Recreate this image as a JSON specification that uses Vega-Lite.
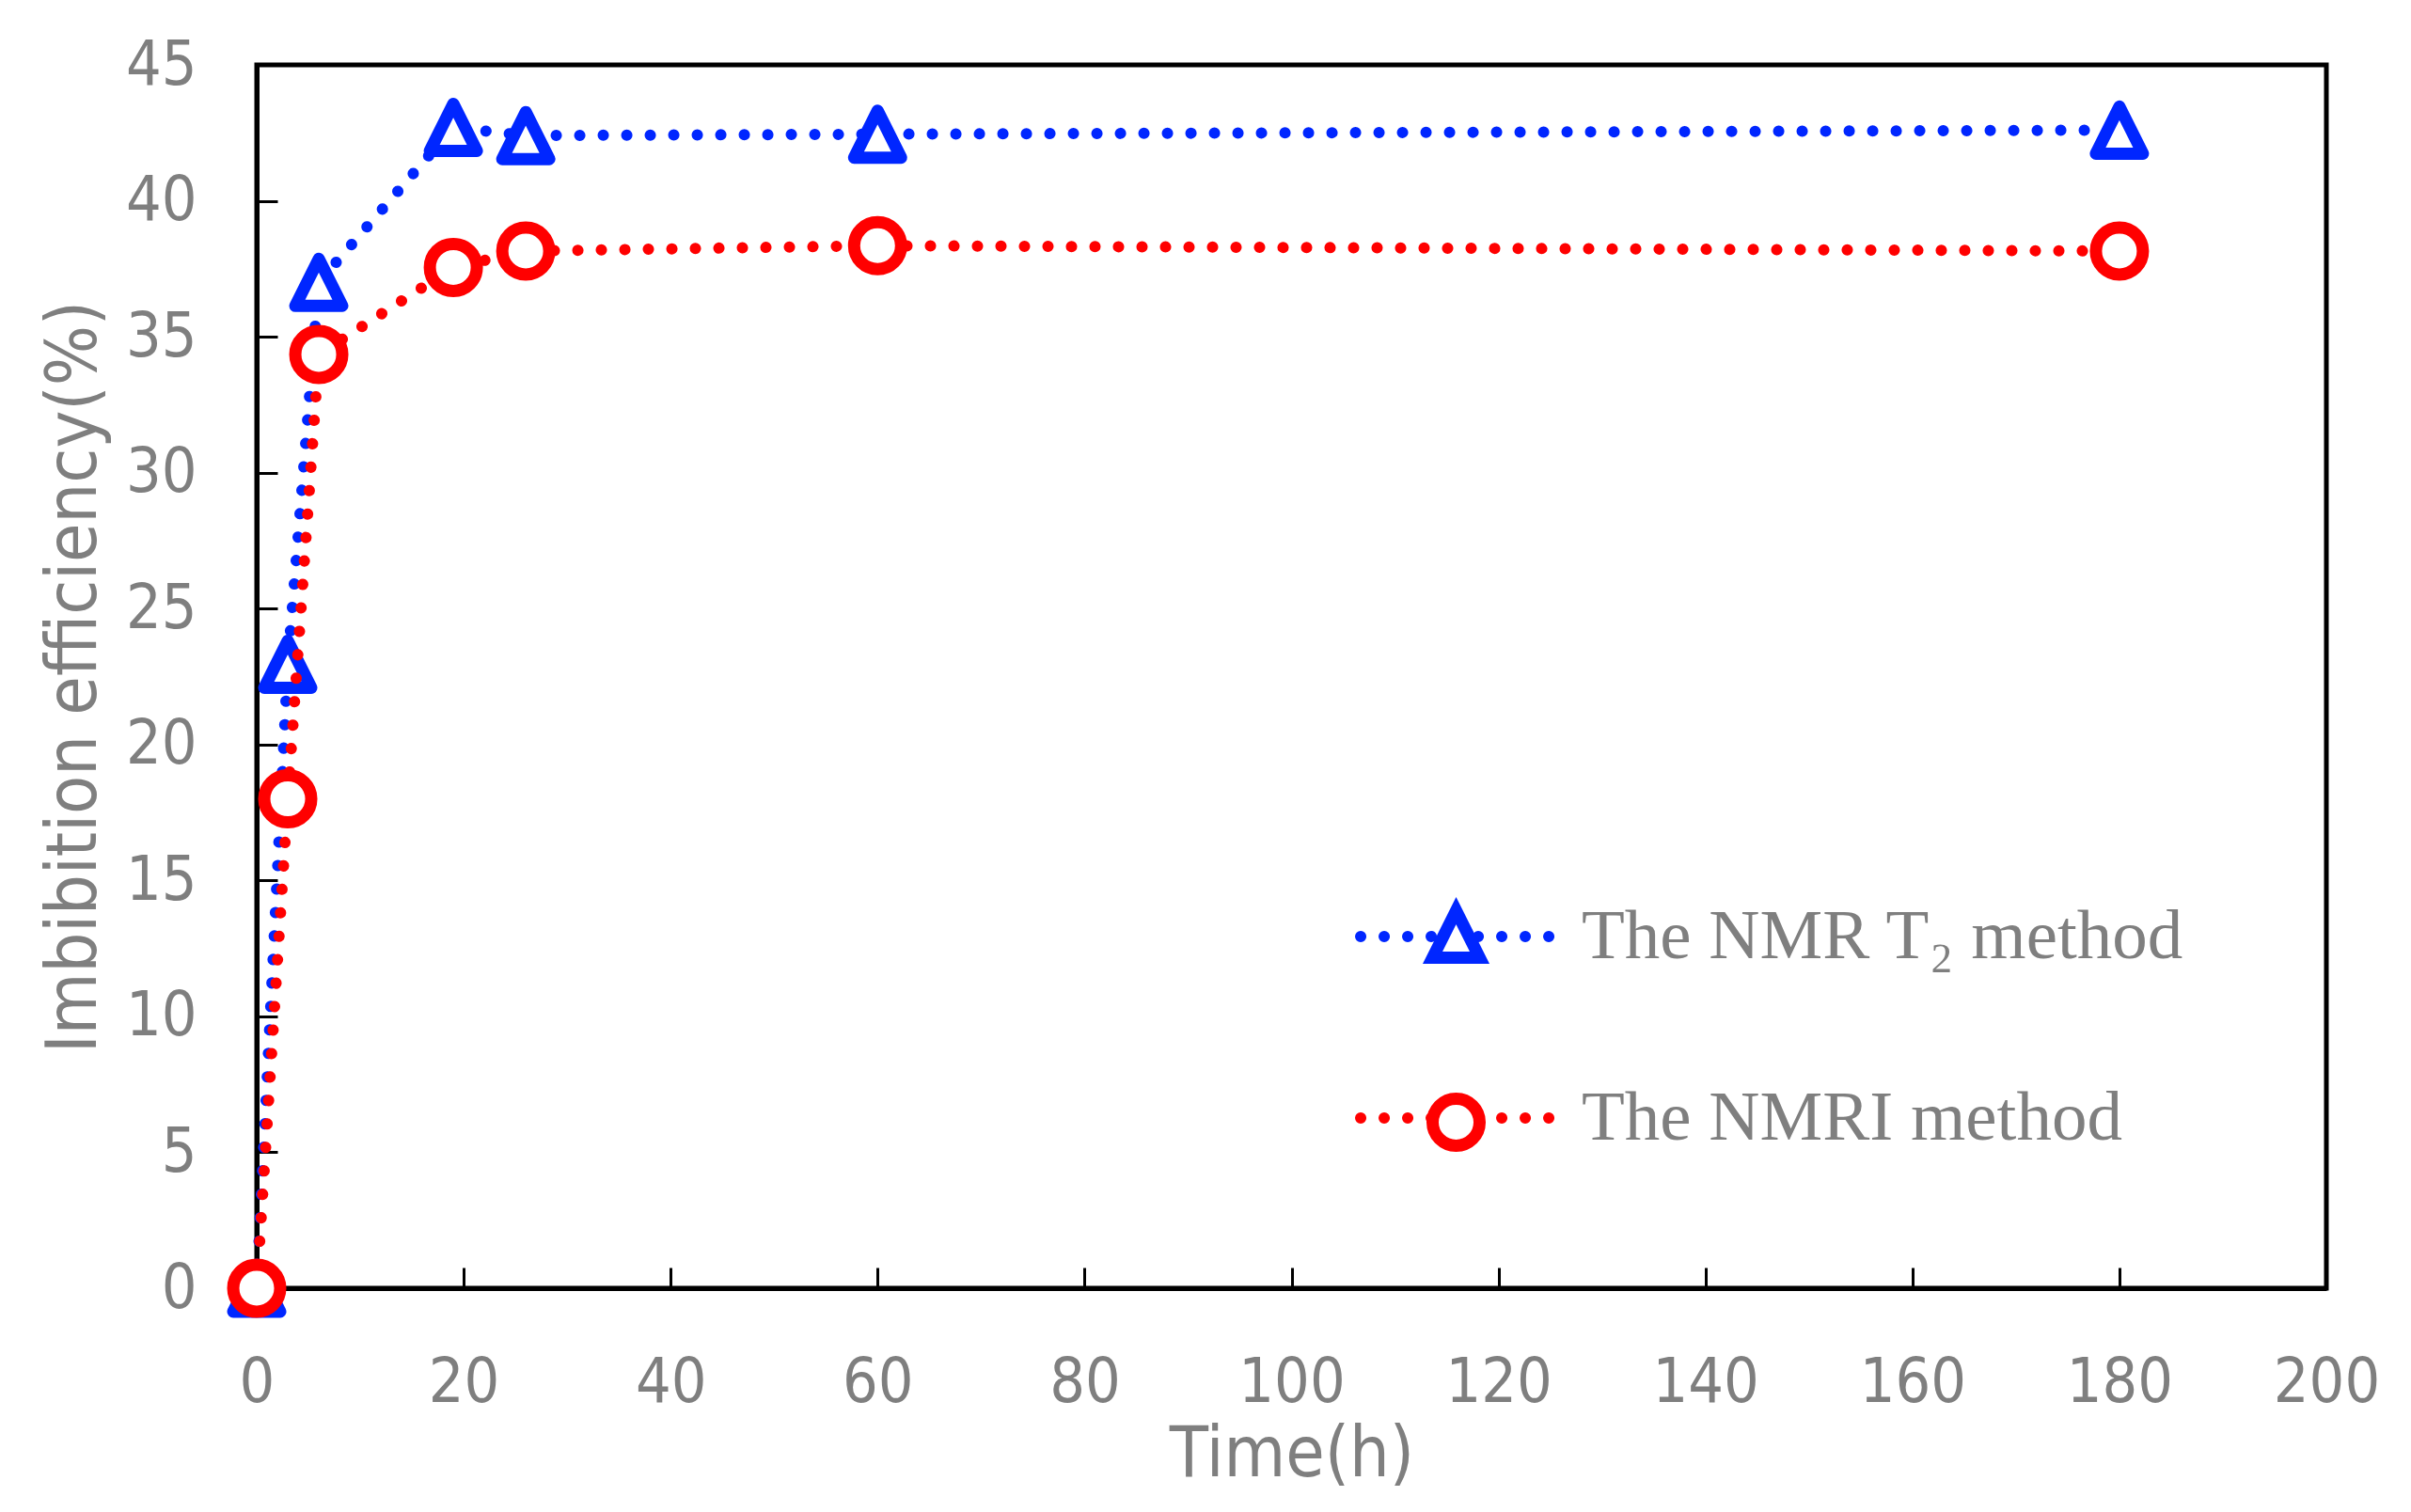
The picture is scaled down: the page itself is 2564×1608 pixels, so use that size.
{
  "$schema": "https://vega.github.io/schema/vega-lite/v6.json",
  "width": 2201,
  "height": 1301,
  "autosize": {"type": "none"},
  "padding": {"left": 273, "top": 69, "right": 90, "bottom": 238},
  "background": "white",
  "config": {
    "view": {"stroke": "black", "strokeWidth": 5},
    "axis": {
      "domainColor": "black",
      "domainWidth": 5,
      "tickColor": "black",
      "tickWidth": 3,
      "tickSize": -22,
      "grid": false,
      "labelFont": "Liberation Sans Narrow, DejaVu Sans Condensed, Liberation Sans",
      "labelFontSize": 66,
      "labelColor": "#7f7f7f",
      "labelOverlap": false,
      "labelFlush": false,
      "titleFont": "Liberation Sans Narrow, DejaVu Sans Condensed, Liberation Sans",
      "titleFontSize": 75,
      "titleFontWeight": "normal",
      "titleColor": "#7f7f7f"
    },
    "legend": {"padding": 0}
  },
  "data": {
    "values": [
      {"method": "The NMR T₂ method", "time": 0, "efficiency": 0},
      {"method": "The NMR T₂ method", "time": 3, "efficiency": 22.95},
      {"method": "The NMR T₂ method", "time": 6, "efficiency": 37.0},
      {"method": "The NMR T₂ method", "time": 19, "efficiency": 42.7},
      {"method": "The NMR T₂ method", "time": 26, "efficiency": 42.4},
      {"method": "The NMR T₂ method", "time": 60, "efficiency": 42.45},
      {"method": "The NMR T₂ method", "time": 180, "efficiency": 42.6},
      {"method": "The NMRI method", "time": 0, "efficiency": 0},
      {"method": "The NMRI method", "time": 3, "efficiency": 18.0},
      {"method": "The NMRI method", "time": 6, "efficiency": 34.35},
      {"method": "The NMRI method", "time": 19, "efficiency": 37.55},
      {"method": "The NMRI method", "time": 26, "efficiency": 38.15},
      {"method": "The NMRI method", "time": 60, "efficiency": 38.35},
      {"method": "The NMRI method", "time": 180, "efficiency": 38.15}
    ]
  },
  "encoding": {
    "x": {
      "field": "time",
      "type": "quantitative",
      "scale": {"domain": [0, 200], "nice": false, "zero": false},
      "axis": {
        "title": "Time(h)",
        "values": [0, 20, 40, 60, 80, 100, 120, 140, 160, 180, 200],
        "labelPadding": 90,
        "titlePadding": 7
      }
    },
    "y": {
      "field": "efficiency",
      "type": "quantitative",
      "scale": {"domain": [0, 45], "nice": false},
      "axis": {
        "title": "Imbibition efficiency(%)",
        "values": [0, 5, 10, 15, 20, 25, 30, 35, 40, 45],
        "labelPadding": 86,
        "titlePadding": 16
      }
    }
  },
  "layer": [
    {
      "transform": [{"filter": "datum.method !== 'The NMRI method'"}],
      "mark": {"type": "line", "strokeWidth": 12, "strokeDash": [0.1, 24.9], "strokeCap": "round"},
      "encoding": {
        "color": {
          "field": "method",
          "type": "nominal",
          "scale": {"domain": ["The NMR T₂ method", "The NMRI method"], "range": ["#0026FF", "#FF0000"]},
          "legend": {
            "title": null,
            "orient": "none",
            "legendX": 1168,
            "legendY": 816,
            "symbolType": "stroke",
            "symbolSize": 44100,
            "symbolStrokeWidth": 12,
            "symbolDash": [0.1, 24.9],
            "labelFont": "Liberation Serif",
            "labelFontSize": 75,
            "labelColor": "#7f7f7f",
            "labelOffset": 19,
            "labelLimit": 1000,
            "rowPadding": 44,
            "encode": {"symbols": {"update": {"strokeCap": {"value": "round"}}}}
          }
        }
      }
    },
    {
      "transform": [{"filter": "datum.method !== 'The NMRI method'"}],
      "mark": {"type": "point", "filled": false, "fill": "white", "fillOpacity": 1, "opacity": 1, "strokeWidth": 13, "strokeJoin": "round", "size": 2500},
      "encoding": {
        "stroke": {
          "field": "method",
          "type": "nominal",
          "scale": {"range": ["#0026FF", "#FF0000"]},
          "legend": {
            "title": null,
            "orient": "none",
            "legendX": 1238,
            "legendY": 887,
            "symbolSize": 2500,
            "symbolStrokeWidth": 13,
            "symbolFillColor": "white",
            "labelExpr": "''",
            "labelFontSize": 75,
            "rowPadding": 97,
            "encode": {"symbols": {"update": {"strokeJoin": {"value": "round"}}}}
          }
        },
        "shape": {
          "field": "method",
          "type": "nominal",
          "scale": {"range": ["M0,-1L1,1L-1,1Z", "circle"]},
          "legend": {
            "title": null,
            "orient": "none",
            "legendX": 1238,
            "legendY": 887,
            "symbolSize": 2500,
            "symbolStrokeWidth": 13,
            "symbolFillColor": "white",
            "labelExpr": "''",
            "labelFontSize": 75,
            "rowPadding": 97,
            "encode": {"symbols": {"update": {"strokeJoin": {"value": "round"}}}}
          }
        }
      }
    },
    {
      "transform": [{"filter": "datum.method === 'The NMRI method'"}],
      "mark": {"type": "line", "strokeWidth": 12, "strokeDash": [0.1, 24.9], "strokeCap": "round"},
      "encoding": {
        "color": {"field": "method", "type": "nominal"}
      }
    },
    {
      "transform": [{"filter": "datum.method === 'The NMRI method'"}],
      "mark": {"type": "point", "filled": false, "fill": "white", "fillOpacity": 1, "opacity": 1, "strokeWidth": 13, "strokeJoin": "round", "size": 2500},
      "encoding": {
        "stroke": {"field": "method", "type": "nominal"},
        "shape": {"field": "method", "type": "nominal"}
      }
    }
  ]
}
